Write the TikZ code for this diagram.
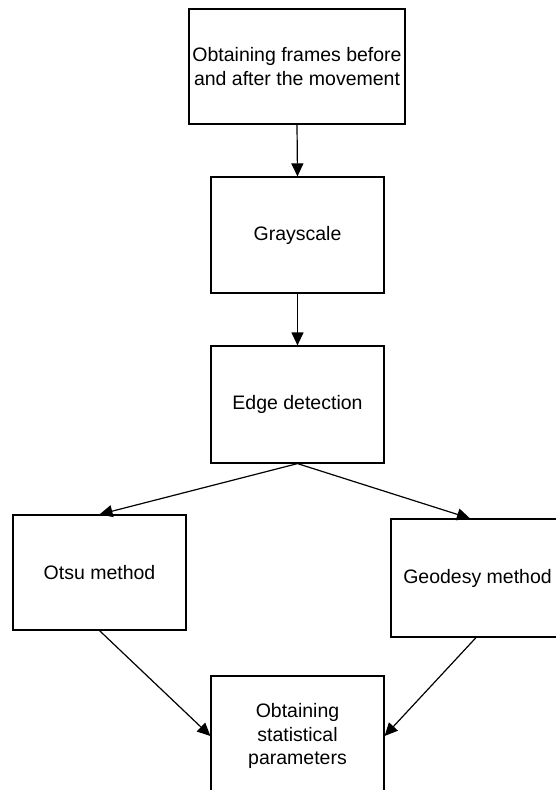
\documentclass[tikz,border=0pt]{standalone}
\usepackage{fontspec}
\setmainfont{Liberation Sans}
\usetikzlibrary{arrows.meta}
\begin{document}
\begin{tikzpicture}[x=1pt,y=-1pt,
  box/.style={draw=black,line width=1.2pt,fill=white,inner sep=0pt,align=center,
    font=\fontsize{19.5}{23.5}\selectfont},
  arr/.style={line width=1.2pt,-{Triangle[length=13pt,width=12pt]}}]
\clip (0,0) rectangle (556,790);
\fill[white] (0,0) rectangle (556,790);
\node[box,minimum width=216pt,minimum height=115pt] (b1) at (297,66.5) {Obtaining frames before\\and after the movement};
\node[box,minimum width=173pt,minimum height=116pt] (b2) at (297.5,235) {Grayscale};
\node[box,minimum width=173pt,minimum height=117pt] (b3) at (297.5,404.5) {Edge detection};
\node[box,minimum width=173pt,minimum height=115pt] (b4) at (99.5,572.5) {Otsu method};
\node[box,minimum width=173pt,minimum height=118pt] (b5) at (477.5,578) {Geodesy method};
\node[box,minimum width=173pt,minimum height=120pt] (b6) at (297.5,736) {Obtaining\\statistical\\parameters};
\draw[arr] (b1.south) -- (b2.north);
\draw[arr] (b2.south) -- (b3.north);
\draw[arr] (b3.south) -- (b4.north);
\draw[arr] (b3.south) -- ([xshift=-7.5pt]b5.north);
\draw[arr] (b4.south) -- (b6.west);
\draw[arr] ([xshift=-1.5pt]b5.south) -- (b6.east);
\end{tikzpicture}
\end{document}
